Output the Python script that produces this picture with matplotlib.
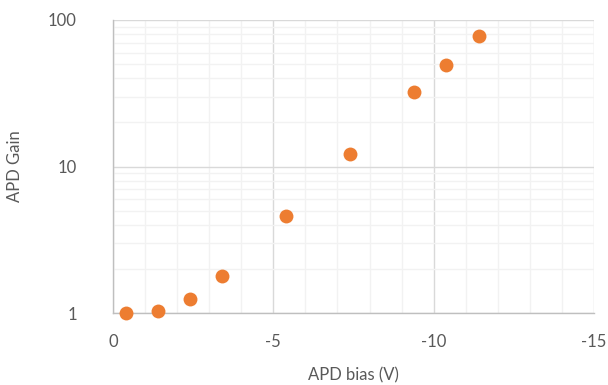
import matplotlib
matplotlib.use("Agg")
import matplotlib.pyplot as plt
from matplotlib.ticker import FixedLocator, FuncFormatter, LogLocator, NullFormatter

bias = [-0.4, -1.4, -2.4, -3.4, -5.4, -7.4, -9.4, -10.4, -11.4]
gain = [1.0, 1.03, 1.25, 1.80, 4.6, 12.1, 32.5, 49.6, 77.4]
xticks = [0, -5, -10, -15]
yticks = [1, 10, 100]

plt.rcParams['font.family'] = ['Lato', 'DejaVu Sans']
fig = plt.figure(figsize=(6.08, 3.85), dpi=100)
L, R, T, B = 113, 594, 20, 313
ax = fig.add_axes([L/608, 1 - B/385, (R-L)/608, (B-T)/385])

ax.set_yscale('log')
ax.set_xlim(0, -15)
ax.set_ylim(1, 100)

ax.xaxis.set_major_locator(FixedLocator(xticks))
ax.xaxis.set_minor_locator(FixedLocator(list(range(0, -16, -1))))
ax.yaxis.set_major_locator(FixedLocator(yticks))
ax.yaxis.set_minor_locator(LogLocator(base=10, subs=range(2, 10)))
ax.yaxis.set_minor_formatter(NullFormatter())
ax.xaxis.set_major_formatter(FuncFormatter(lambda v, p: f"{int(v)}"))
ax.yaxis.set_major_formatter(FuncFormatter(lambda v, p: f"{int(v)}"))

ax.grid(which='minor', color='#f2f2f2', linewidth=1.0)
ax.grid(which='major', color='#d9d9d9', linewidth=1.0)
ax.set_axisbelow(True)

for s in ['top', 'right']:
    ax.spines[s].set_visible(False)
for s in ['left', 'bottom']:
    ax.spines[s].set_color('#bfbfbf')
    ax.spines[s].set_linewidth(1.0)

ax.tick_params(which='both', length=0, colors='#595959', labelsize=12)
ax.tick_params(axis='x', pad=15)
ax.tick_params(axis='y', pad=26)

ax.scatter(bias, gain, s=100, color='#ed7d31', zorder=3, clip_on=False, linewidths=0)

ax.set_xlabel('APD bias (V)', color='#595959', fontsize=12)
ax.set_ylabel('APD Gain', color='#595959', fontsize=12)
ax.xaxis.set_label_coords(0.5, -(367 - B) / (B - T))
ax.yaxis.set_label_coords((23 - L) / (R - L), 0.5)

fig.savefig('out.png', dpi=100)
